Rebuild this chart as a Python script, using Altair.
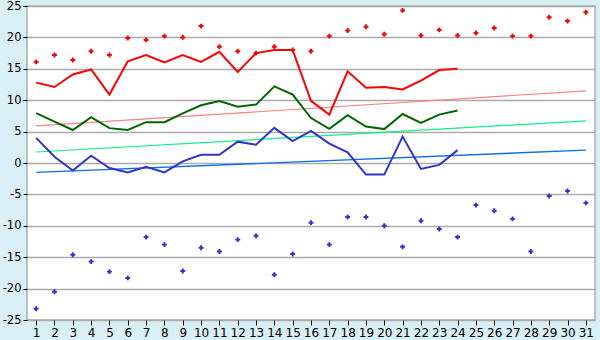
import altair as alt
import pandas as pd

days = list(range(1, 32))
days_obs = list(range(1, 25))

max_t = [12.8, 12.1, 14.1, 14.9, 10.9, 16.2, 17.2, 16.0, 17.2, 16.1, 17.7, 14.5,
         17.5, 18.0, 18.0, 9.9, 7.7, 14.6, 12.0, 12.1, 11.7, 13.1, 14.8, 15.0]
mean_t = [7.95, 6.6, 5.25, 7.3, 5.55, 5.25, 6.5, 6.5, 7.9, 9.2, 9.85, 8.95,
          9.3, 12.2, 10.9, 7.15, 5.45, 7.6, 5.8, 5.4, 7.8, 6.4, 7.7, 8.35]
min_t = [4.0, 1.0, -1.2, 1.15, -0.8, -1.5, -0.6, -1.5, 0.25, 1.3, 1.3, 3.4,
         2.9, 5.6, 3.5, 5.1, 3.1, 1.7, -1.85, -1.85, 4.2, -0.95, -0.3, 2.05]

rec_high = [16.1, 17.2, 16.4, 17.8, 17.2, 19.9, 19.6, 20.2, 20.0, 21.8, 18.5, 17.8,
            17.5, 18.5, 18.0, 17.8, 20.2, 21.1, 21.7, 20.5, 24.3, 20.3, 21.2, 20.3,
            20.7, 21.5, 20.2, 20.2, 23.2, 22.6, 24.0]
rec_low = [-23.2, -20.5, -14.6, -15.7, -17.3, -18.3, -11.8, -13.0, -17.2, -13.5, -14.1,
           -12.2, -11.6, -17.8, -14.5, -9.5, -13.0, -8.6, -8.6, -10.0, -13.35, -9.2,
           -10.5, -11.8, -6.7, -7.6, -8.9, -14.1, -5.25, -4.45, -6.35]

trend_days = [1, 31]
trend_max = [5.9, 11.5]
trend_mean = [1.75, 6.7]
trend_min = [-1.5, 2.05]

x_scale = alt.Scale(domain=[0.5, 31.5], nice=False, zero=False)
y_scale = alt.Scale(domain=[-25, 25], nice=False)

x_axis = alt.Axis(values=days, title=None, grid=False, domain=False, tickColor="#000000",
                  tickSize=5, labelColor="#000000", labelFontSize=12, labelFont="DejaVu Sans",
                  labelPadding=2, labelFlush=False)
y_axis = alt.Axis(values=list(range(-25, 26, 5)), title=None, grid=True, gridColor="#aaaaaa",
                  gridWidth=1.5, domain=False, tickColor="#000000", tickSize=4,
                  labelColor="#000000", labelFontSize=11.5, labelFont="DejaVu Sans",
                  labelPadding=2, labelExpr="'' + datum.value")

obs = pd.DataFrame({"day": days_obs, "max": max_t, "mean": mean_t, "min": min_t})
rec = pd.DataFrame({"day": days, "high": rec_high, "low": rec_low})
tr = pd.DataFrame({"day": trend_days, "tmax": trend_max, "tmean": trend_mean, "tmin": trend_min})

def line(df, field, color, width):
    return alt.Chart(df).mark_line(color=color, strokeWidth=width, clip=True).encode(
        x=alt.X("day:Q", scale=x_scale, axis=x_axis),
        y=alt.Y(f"{field}:Q", scale=y_scale, axis=y_axis),
    )

def pts(df, field, color):
    return alt.Chart(df).mark_point(shape="cross", filled=True, color=color, size=24,
                                    opacity=1).encode(
        x=alt.X("day:Q", scale=x_scale, axis=x_axis),
        y=alt.Y(f"{field}:Q", scale=y_scale, axis=y_axis),
    )

chart = alt.layer(
    line(tr, "tmax", "#ff8080", 1.2),
    line(tr, "tmean", "#11ee88", 1.2),
    line(tr, "tmin", "#0a70e8", 1.4),
    line(obs, "max", "#ff0000", 2),
    line(obs, "mean", "#006600", 2),
    line(obs, "min", "#3333cc", 2),
    pts(rec, "high", "#ff0000"),
    pts(rec, "low", "#3333cc"),
).properties(
    width=568, height=314,
    autosize=alt.AutoSizeParams(type="none"),
    padding={"left": 27, "top": 6, "right": 5, "bottom": 20},
    background="#d9eff6",
).configure_view(stroke="#aaaaaa", strokeWidth=1.5, fill="#ffffff")

chart.save("out.html", embed_options={"renderer": "svg", "actions": False})
